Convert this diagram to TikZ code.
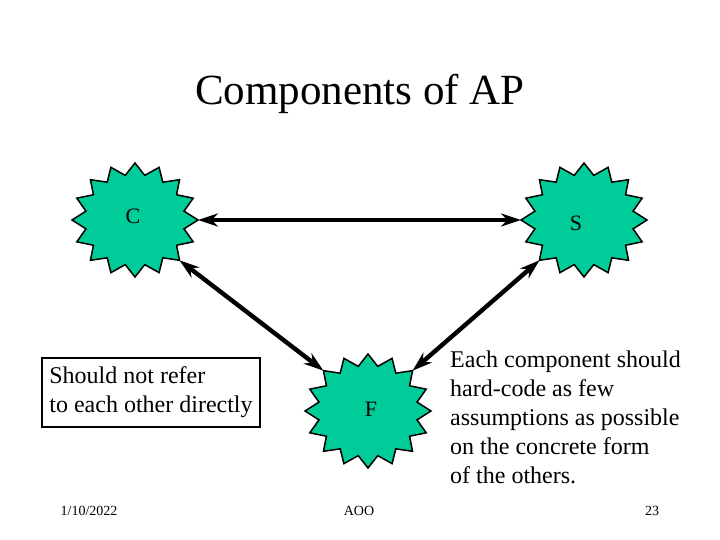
\documentclass[tikz,border=0pt]{standalone}
\usepackage{fontspec}
\setmainfont{Liberation Serif}
\usetikzlibrary{arrows.meta,calc}
\definecolor{burstgreen}{RGB}{0,204,153}
\tikzset{
  burst/.style={fill=burstgreen,draw=black,line width=1.5pt,line join=miter},
  link/.style={line width=4.4pt,{Stealth[length=20pt,width=13pt]}-{Stealth[length=20pt,width=13pt]}},
  lbl/.style={font=\fontsize{22}{26}\selectfont,inner sep=0pt},
  body/.style={font=\fontsize{24}{29}\selectfont,align=left},
  foot/.style={font=\fontsize{14}{16}\selectfont,inner sep=0pt}
}
\newcommand\drawburst[1]{%
  \draw[burst,shift={(#1)}] plot[samples at={0,...,31},variable=\k]
    ({(iseven(\k) ? 63 : 50)*cos(90+11.25*\k)},{(iseven(\k) ? 57 : 45.5)*sin(90+11.25*\k)}) -- cycle;}
\begin{document}
\begin{tikzpicture}[x=1pt,y=-1pt]
\useasboundingbox[fill=white] (0,0) rectangle (720,540);
\node[font=\fontsize{43}{50}\selectfont,inner sep=0pt] (title) at (360,94) {Components of AP};
% stars
\coordinate (Cc) at (135,220);
\coordinate (Sc) at (584,220);
\coordinate (Fc) at (368,411);
\drawburst{135,220}
\drawburst{584,220}
\drawburst{368,411}
\node[lbl] (C) at (133,216) {C};
\node[lbl] (S) at (576,223) {S};
\node[lbl] (F) at (371,409) {F};
% tips
\coordinate (Ce) at ($(Cc)+(63,0)$);
\coordinate (Cse) at ($(Cc)+(44.5,40.3)$);
\coordinate (Sw) at ($(Sc)+(-63,0)$);
\coordinate (Ssw) at ($(Sc)+(-44.5,40.3)$);
\coordinate (Fnw) at ($(Fc)+(-44.5,-40.3)$);
\coordinate (Fne) at ($(Fc)+(44.5,-40.3)$);
\draw[link] (Ce) -- (Sw);
\draw[link] (Cse) -- (Fnw);
\draw[link] (Fne) -- (Ssw);
% texts
\node[body,draw,line width=1.6pt,minimum width=218pt,minimum height=69pt,inner xsep=6pt] (note) at (151,392.5) {Should not refer\\to each other directly};
\node[body,anchor=west,inner sep=0pt] (remark) at (450,417) {Each component should\\hard-code as few\\assumptions as possible\\on the concrete form\\of the others.};
\node[foot] (date) at (89,511) {1/10/2022};
\node[foot] (aoo) at (359,511) {AOO};
\node[foot] (page) at (652,511) {23};
\end{tikzpicture}
\end{document}
